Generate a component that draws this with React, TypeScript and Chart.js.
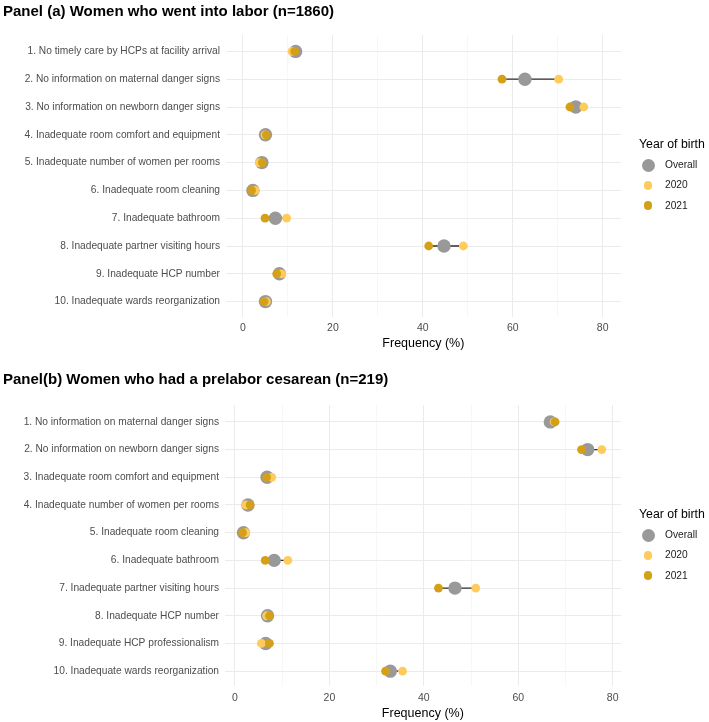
import React, { useEffect, useRef } from "react";
import { Chart, registerables } from "chart.js";

Chart.register(...registerables);

const FONT = "'Liberation Sans', Arial, Helvetica, sans-serif";

// ---------- Panel (a) data ----------
const titleA = "Panel (a) Women who went into labor (n=1860)";
const categoriesA = [
  "1. No timely care by HCPs at facility arrival",
  "2. No information on maternal danger signs",
  "3. No information on newborn danger signs",
  "4. Inadequate room comfort and equipment",
  "5. Inadequate number of women per rooms",
  "6. Inadequate room cleaning",
  "7. Inadequate bathroom",
  "8. Inadequate partner visiting hours",
  "9. Inadequate HCP number",
  "10. Inadequate wards reorganization",
];
const overallA = [11.7, 62.7, 74.0, 5.0, 4.2, 2.2, 7.2, 44.7, 8.1, 5.0];
const y2020A = [10.9, 70.2, 75.8, 4.9, 3.6, 2.7, 9.7, 49.0, 8.6, 5.2];
const y2021A = [11.5, 57.6, 72.7, 5.2, 4.3, 1.9, 4.9, 41.3, 7.5, 4.7];

// ---------- Panel (b) data ----------
const titleB = "Panel(b) Women who had a prelabor cesarean (n=219)";
const categoriesB = [
  "1. No information on maternal danger signs",
  "2. No information on newborn danger signs",
  "3. Inadequate room comfort and equipment",
  "4. Inadequate number of women per rooms",
  "5. Inadequate room cleaning",
  "6. Inadequate bathroom",
  "7. Inadequate partner visiting hours",
  "8. Inadequate HCP number",
  "9. Inadequate HCP professionalism",
  "10. Inadequate wards reorganization",
];
const overallB = [66.8, 74.7, 6.8, 2.75, 1.8, 8.3, 46.6, 6.9, 6.5, 32.9];
const y2020B = [67.6, 77.7, 7.8, 2.3, 2.3, 11.2, 51.0, 6.7, 5.6, 35.5];
const y2021B = [67.8, 73.4, 6.7, 3.2, 1.6, 6.4, 43.1, 7.3, 7.3, 31.9];

// ---------- shared ----------
const xTickValues = [0, 10, 20, 30, 40, 50, 60, 70, 80];
const xTickLabelValues = [0, 20, 40, 60, 80];
const legendTitle = "Year of birth";
const legendLabels = ["Overall", "2020", "2021"];

const COL_OVERALL = "#999999";
const COL_2020 = "#FFCC5C";
const COL_2021 = "#D4A017";
const COL_SEG = "#2b2b2b";

type PanelProps = {
  title: string;
  labels: string[];
  overall: number[];
  v2020: number[];
  v2021: number[];
  height: number;
  xMin: number;
  xMax: number;
  yMin: number;
  yMax: number;
  yAxisWidth: number;
  xAxisHeight: number;
  titlePadTop: number;
  titlePadBottom: number;
  xTitlePadBottom: number;
  legendTop: number;
};

function Panel(p: PanelProps) {
  const ref = useRef<HTMLCanvasElement>(null);

  useEffect(() => {
    if (!ref.current) return;
    const segs = p.labels.map((_, i) => ({
      label: "seg" + i,
      data: [
        { x: p.v2021[i], y: i + 1 },
        { x: p.v2020[i], y: i + 1 },
      ],
      showLine: true,
      borderColor: COL_SEG,
      borderWidth: 1.3,
      pointRadius: 0,
      order: 3,
    }));
    const toPts = (arr: number[]) => arr.map((v, i) => ({ x: v, y: i + 1 }));
    const chart = new Chart(ref.current, {
      type: "scatter",
      data: {
        datasets: [
          {
            label: legendLabels[2],
            data: toPts(p.v2021),
            backgroundColor: COL_2021,
            borderWidth: 0,
            pointRadius: 4.4,
            order: 0,
          },
          {
            label: legendLabels[1],
            data: toPts(p.v2020),
            backgroundColor: COL_2020,
            borderWidth: 0,
            pointRadius: 4.4,
            order: 1,
          },
          {
            label: legendLabels[0],
            data: toPts(p.overall),
            backgroundColor: COL_OVERALL,
            borderWidth: 0,
            pointRadius: 6.7,
            order: 2,
          },
          ...segs,
        ] as any,
      },
      options: {
        animation: false,
        responsive: false,
        events: [],
        layout: { padding: { left: 3, right: 709 - 620.7, top: 0, bottom: 0 } },
        plugins: {
          legend: { display: false },
          tooltip: { enabled: false },
          title: {
            display: true,
            text: p.title,
            align: "start",
            color: "#000",
            font: { family: FONT, size: 15, weight: "bold" },
            padding: { top: p.titlePadTop, bottom: p.titlePadBottom },
          },
        },
        scales: {
          x: {
            type: "linear",
            position: "bottom",
            min: p.xMin,
            max: p.xMax,
            afterBuildTicks: (axis: any) => {
              axis.ticks = xTickValues.map((v) => ({ value: v }));
            },
            afterFit: (axis: any) => {
              axis.height = p.xAxisHeight;
            },
            ticks: {
              autoSkip: false,
              maxRotation: 0,
              color: "#4d4d4d",
              font: { family: FONT, size: 10.5 },
              padding: 5,
              callback: (v: any) => (xTickLabelValues.includes(Number(v)) ? String(v) : ""),
            },
            grid: {
              drawTicks: false,
              color: (ctx: any) =>
                xTickLabelValues.includes(ctx.tick?.value) ? "#ebebeb" : "#f3f3f3",
              lineWidth: (ctx: any) => (xTickLabelValues.includes(ctx.tick?.value) ? 1 : 0.7),
            },
            border: { display: false },
            title: {
              display: true,
              text: "Frequency (%)",
              color: "#000",
              font: { family: FONT, size: 12.5 },
              padding: { top: 0, bottom: p.xTitlePadBottom },
            },
          },
          y: {
            type: "linear",
            reverse: true,
            min: p.yMin,
            max: p.yMax,
            afterBuildTicks: (axis: any) => {
              axis.ticks = p.labels.map((_, i) => ({ value: i + 1 }));
            },
            afterFit: (axis: any) => {
              axis.width = p.yAxisWidth;
            },
            ticks: {
              autoSkip: false,
              color: "#4d4d4d",
              font: { family: FONT, size: 10.2 },
              padding: 6,
              callback: (v: any) => p.labels[Number(v) - 1] ?? "",
            },
            grid: { drawTicks: false, color: "#ebebeb", lineWidth: 1 },
            border: { display: false },
          },
        },
      } as any,
    });
    return () => chart.destroy();
  }, []);

  const lt = p.legendTop;
  const sizes = [13, 8.8, 8.8];
  const cols = [COL_OVERALL, COL_2020, COL_2021];
  return (
    <div style={{ position: "relative", width: 709, height: p.height }}>
      <canvas ref={ref} width={709} height={p.height} style={{ display: "block" }} />
      <div
        style={{
          position: "absolute",
          left: 639,
          top: lt - 8,
          height: 16,
          lineHeight: "16px",
          fontSize: 12.3,
          fontFamily: FONT,
          color: "#000",
          whiteSpace: "nowrap",
        }}
      >
        {legendTitle}
      </div>
      {legendLabels.map((lab, i) => {
        const cy = lt + 21 + i * 20.4;
        const s = sizes[i];
        return (
          <React.Fragment key={lab}>
            <div
              style={{
                position: "absolute",
                left: 648 - s / 2,
                top: cy - s / 2,
                width: s,
                height: s,
                borderRadius: "50%",
                background: cols[i],
              }}
            />
            <div
              style={{
                position: "absolute",
                left: 665,
                top: cy - 7,
                height: 14,
                lineHeight: "14px",
                fontSize: 10.2,
                fontFamily: FONT,
                color: "#1a1a1a",
                whiteSpace: "nowrap",
              }}
            >
              {lab}
            </div>
          </React.Fragment>
        );
      })}
    </div>
  );
}

export default function App() {
  return (
    <div
      style={{
        position: "absolute",
        left: 0,
        top: 0,
        width: 709,
        height: 722,
        background: "#fff",
        overflow: "hidden",
      }}
    >
      <Panel
        title={titleA}
        labels={categoriesA}
        overall={overallA}
        v2020={y2020A}
        v2021={y2021A}
        height={360}
        xMin={-3.78}
        xMax={84.0}
        yMin={0.41}
        yMax={10.55}
        yAxisWidth={223}
        xAxisHeight={43.1}
        titlePadTop={3}
        titlePadBottom={14}
        xTitlePadBottom={9}
        legendTop={144}
      />
      <Panel
        title={titleB}
        labels={categoriesB}
        overall={overallB}
        v2020={y2020B}
        v2021={y2021B}
        height={362}
        xMin={-2.11}
        xMax={81.7}
        yMin={0.39}
        yMax={10.55}
        yAxisWidth={222}
        xAxisHeight={35.6}
        titlePadTop={11}
        titlePadBottom={16}
        xTitlePadBottom={1}
        legendTop={154}
      />
    </div>
  );
}
